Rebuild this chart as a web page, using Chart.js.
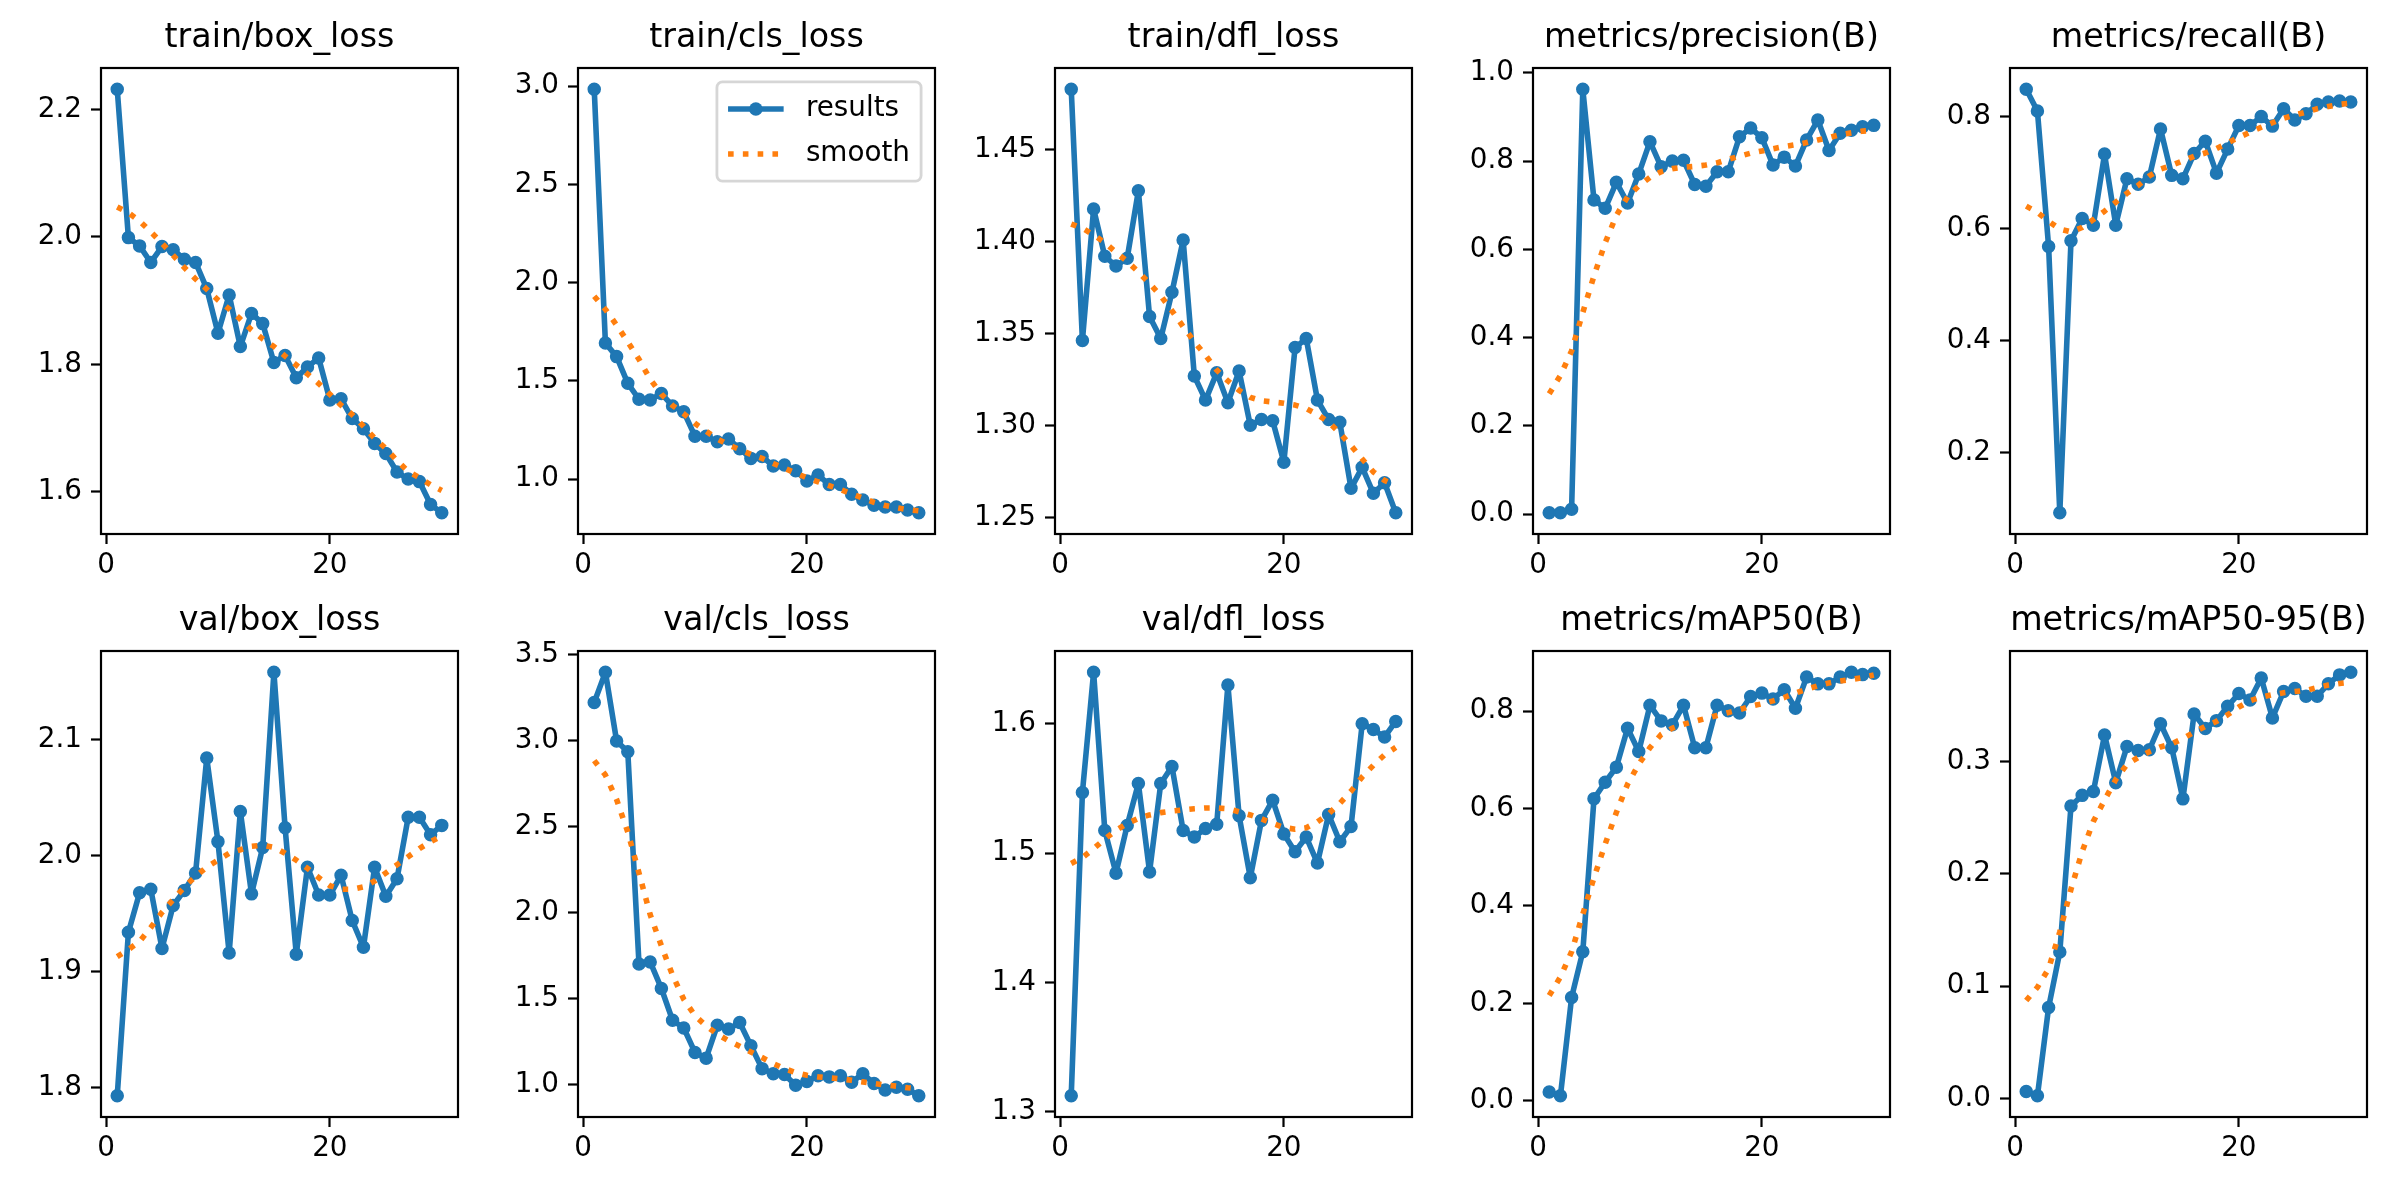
<!DOCTYPE html>
<html>
<head>
<meta charset="utf-8">
<title>results</title>
<script src="https://cdn.jsdelivr.net/npm/chart.js@4.4.1/dist/chart.umd.min.js"></script>
<style>
  html, body { margin: 0; padding: 0; background: #fff; }
  #fig { position: relative; width: 2400px; height: 1200px; overflow: hidden; background: #fff; }
  #fig canvas { position: absolute; }
</style>
</head>
<body>
<div id="fig"></div>
<script>
// epochs (x values shared by every panel)
const epochs = [1, 2, 3, 4, 5, 6, 7, 8, 9, 10, 11, 12, 13, 14, 15, 16, 17, 18, 19, 20, 21, 22, 23, 24, 25, 26, 27, 28, 29, 30];
const xTickLabels = ['0', '20'];

// train losses
const trainBoxLoss = [2.232, 1.999, 1.986, 1.960, 1.985, 1.980, 1.965, 1.960, 1.919, 1.849, 1.909, 1.828, 1.880, 1.864, 1.803, 1.814, 1.779, 1.796, 1.810, 1.744, 1.746, 1.715, 1.699, 1.676, 1.660, 1.631, 1.620, 1.616, 1.580, 1.567];
const trainBoxLossSmooth = [2.047, 2.038, 2.025, 2.008, 1.990, 1.971, 1.952, 1.934, 1.918, 1.901, 1.887, 1.871, 1.854, 1.840, 1.828, 1.813, 1.799, 1.785, 1.770, 1.753, 1.736, 1.721, 1.703, 1.684, 1.668, 1.649, 1.632, 1.622, 1.611, 1.602];
const trainBoxTicks = ['1.6', '1.8', '2.0', '2.2'];

const trainClsLoss = [2.984, 1.692, 1.623, 1.487, 1.406, 1.402, 1.435, 1.372, 1.342, 1.218, 1.218, 1.190, 1.204, 1.154, 1.105, 1.115, 1.066, 1.071, 1.042, 0.990, 1.020, 0.972, 0.972, 0.923, 0.893, 0.867, 0.858, 0.858, 0.842, 0.828];
const trainClsLossSmooth = [1.930, 1.863, 1.783, 1.698, 1.609, 1.508, 1.431, 1.374, 1.332, 1.283, 1.243, 1.204, 1.174, 1.150, 1.125, 1.105, 1.079, 1.055, 1.030, 1.006, 0.986, 0.966, 0.947, 0.925, 0.903, 0.881, 0.865, 0.854, 0.844, 0.838];
const trainClsTicks = ['1.0', '1.5', '2.0', '2.5', '3.0'];

const trainDflLoss = [1.4827, 1.3462, 1.4177, 1.3920, 1.3867, 1.3909, 1.4276, 1.3593, 1.3473, 1.3724, 1.4008, 1.3270, 1.3139, 1.3287, 1.3125, 1.3297, 1.3002, 1.3034, 1.3027, 1.2802, 1.3424, 1.3473, 1.3139, 1.3034, 1.3019, 1.2660, 1.2774, 1.2633, 1.2690, 1.2527];
const trainDflLossSmooth = [1.4095, 1.4072, 1.4036, 1.3994, 1.3941, 1.3892, 1.3835, 1.3772, 1.3705, 1.3624, 1.3538, 1.3456, 1.3382, 1.3302, 1.3243, 1.3192, 1.3154, 1.3135, 1.3129, 1.3122, 1.3112, 1.3093, 1.3061, 1.3019, 1.2960, 1.2892, 1.2819, 1.2749, 1.2703, 1.2675];
const trainDflTicks = ['1.25', '1.30', '1.35', '1.40', '1.45'];

// metrics
const precision = [0.003, 0.003, 0.011, 0.963, 0.712, 0.693, 0.752, 0.705, 0.771, 0.844, 0.787, 0.800, 0.802, 0.747, 0.743, 0.776, 0.776, 0.855, 0.875, 0.853, 0.791, 0.809, 0.789, 0.848, 0.893, 0.824, 0.863, 0.870, 0.878, 0.881];
const precisionSmooth = [0.273, 0.314, 0.370, 0.457, 0.540, 0.615, 0.677, 0.719, 0.744, 0.763, 0.776, 0.783, 0.786, 0.788, 0.791, 0.796, 0.804, 0.811, 0.818, 0.823, 0.828, 0.833, 0.837, 0.842, 0.848, 0.853, 0.860, 0.864, 0.868, 0.870];
const precisionTicks = ['0.0', '0.2', '0.4', '0.6', '0.8', '1.0'];

const recall = [0.849, 0.810, 0.568, 0.092, 0.578, 0.618, 0.606, 0.733, 0.606, 0.689, 0.679, 0.692, 0.778, 0.695, 0.689, 0.734, 0.756, 0.699, 0.742, 0.784, 0.784, 0.800, 0.783, 0.814, 0.794, 0.805, 0.822, 0.826, 0.828, 0.826];
const recallSmooth = [0.640, 0.629, 0.613, 0.599, 0.594, 0.602, 0.616, 0.631, 0.647, 0.663, 0.677, 0.694, 0.706, 0.713, 0.721, 0.729, 0.735, 0.743, 0.753, 0.763, 0.772, 0.781, 0.789, 0.797, 0.803, 0.808, 0.814, 0.818, 0.822, 0.824];
const recallTicks = ['0.2', '0.4', '0.6', '0.8'];

// val losses
const valBoxLoss = [1.793, 1.934, 1.968, 1.971, 1.920, 1.957, 1.970, 1.985, 2.084, 2.012, 1.916, 2.038, 1.967, 2.007, 2.158, 2.024, 1.915, 1.990, 1.966, 1.966, 1.983, 1.944, 1.921, 1.990, 1.965, 1.980, 2.033, 2.033, 2.018, 2.026];
const valBoxLossSmooth = [1.913, 1.919, 1.926, 1.938, 1.951, 1.962, 1.973, 1.982, 1.990, 1.996, 2.002, 2.005, 2.008, 2.009, 2.007, 2.002, 1.996, 1.989, 1.981, 1.974, 1.971, 1.971, 1.973, 1.978, 1.985, 1.992, 1.999, 2.006, 2.012, 2.017];
const valBoxTicks = ['1.8', '1.9', '2.0', '2.1'];

const valClsLoss = [3.223, 3.399, 2.999, 2.936, 1.703, 1.715, 1.561, 1.376, 1.331, 1.189, 1.156, 1.347, 1.325, 1.363, 1.228, 1.095, 1.065, 1.061, 0.998, 1.020, 1.054, 1.047, 1.054, 1.016, 1.065, 1.009, 0.971, 0.987, 0.975, 0.937];
const valClsLossSmooth = [2.885, 2.801, 2.659, 2.470, 2.232, 1.990, 1.809, 1.638, 1.498, 1.403, 1.343, 1.295, 1.257, 1.225, 1.192, 1.160, 1.124, 1.095, 1.072, 1.056, 1.047, 1.041, 1.036, 1.027, 1.018, 1.009, 1.000, 0.993, 0.984, 0.977];
const valClsTicks = ['1.0', '1.5', '2.0', '2.5', '3.0', '3.5'];

const valDflLoss = [1.3123, 1.5469, 1.6399, 1.5175, 1.4845, 1.5214, 1.5538, 1.4854, 1.5538, 1.5670, 1.5175, 1.5124, 1.5190, 1.5223, 1.6300, 1.5289, 1.4809, 1.5253, 1.5409, 1.5148, 1.5010, 1.5124, 1.4923, 1.5298, 1.5088, 1.5205, 1.6000, 1.5955, 1.5898, 1.6018];
const valDflLossSmooth = [1.4920, 1.4965, 1.5034, 1.5109, 1.5175, 1.5229, 1.5268, 1.5295, 1.5313, 1.5325, 1.5334, 1.5343, 1.5349, 1.5349, 1.5343, 1.5319, 1.5295, 1.5265, 1.5229, 1.5199, 1.5184, 1.5196, 1.5241, 1.5304, 1.5385, 1.5478, 1.5589, 1.5679, 1.5760, 1.5817];
const valDflTicks = ['1.3', '1.4', '1.5', '1.6'];

const mAP50 = [0.018, 0.010, 0.212, 0.306, 0.620, 0.654, 0.685, 0.765, 0.717, 0.812, 0.780, 0.772, 0.812, 0.725, 0.725, 0.812, 0.801, 0.796, 0.830, 0.837, 0.825, 0.844, 0.806, 0.870, 0.856, 0.856, 0.870, 0.880, 0.875, 0.878];
const mAP50Smooth = [0.216, 0.254, 0.306, 0.383, 0.458, 0.527, 0.592, 0.650, 0.691, 0.725, 0.752, 0.765, 0.773, 0.779, 0.785, 0.791, 0.797, 0.803, 0.810, 0.815, 0.821, 0.828, 0.837, 0.845, 0.852, 0.858, 0.862, 0.865, 0.869, 0.874];
const mAP50Ticks = ['0.0', '0.2', '0.4', '0.6', '0.8'];

const mAP5095 = [0.0062, 0.0024, 0.0810, 0.1303, 0.2603, 0.2697, 0.2731, 0.3234, 0.2810, 0.3131, 0.3097, 0.3103, 0.3334, 0.3121, 0.2666, 0.3421, 0.3293, 0.3362, 0.3490, 0.3603, 0.3545, 0.3741, 0.3386, 0.3621, 0.3648, 0.3579, 0.3579, 0.3690, 0.3769, 0.3793];
const mAP5095Smooth = [0.0872, 0.0990, 0.1155, 0.1483, 0.1862, 0.2197, 0.2466, 0.2655, 0.2838, 0.2972, 0.3034, 0.3086, 0.3128, 0.3155, 0.3203, 0.3259, 0.3310, 0.3355, 0.3414, 0.3483, 0.3538, 0.3572, 0.3593, 0.3610, 0.3621, 0.3631, 0.3655, 0.3679, 0.3693, 0.3703];
const mAP5095Ticks = ['0.0', '0.1', '0.2', '0.3'];

const panels = [
  { title: 'train/box_loss', results: trainBoxLoss, smooth: trainBoxLossSmooth, yTicks: trainBoxTicks },
  { title: 'train/cls_loss', results: trainClsLoss, smooth: trainClsLossSmooth, yTicks: trainClsTicks, legend: true },
  { title: 'train/dfl_loss', results: trainDflLoss, smooth: trainDflLossSmooth, yTicks: trainDflTicks },
  { title: 'metrics/precision(B)', results: precision, smooth: precisionSmooth, yTicks: precisionTicks },
  { title: 'metrics/recall(B)', results: recall, smooth: recallSmooth, yTicks: recallTicks },
  { title: 'val/box_loss', results: valBoxLoss, smooth: valBoxLossSmooth, yTicks: valBoxTicks },
  { title: 'val/cls_loss', results: valClsLoss, smooth: valClsLossSmooth, yTicks: valClsTicks },
  { title: 'val/dfl_loss', results: valDflLoss, smooth: valDflLossSmooth, yTicks: valDflTicks },
  { title: 'metrics/mAP50(B)', results: mAP50, smooth: mAP50Smooth, yTicks: mAP50Ticks },
  { title: 'metrics/mAP50-95(B)', results: mAP5095, smooth: mAP5095Smooth, yTicks: mAP5095Ticks }
];

// layout (px) - axes boxes of the 2x5 grid
const AX_LEFT = [101, 578, 1055, 1533, 2010];
const AX_TOP = [68, 651];
const AX_W = 357;
const AX_H = 466;
const YW = 100;   // room for y tick labels
const TH = 68;    // room for title
const XH = 60;    // room for x tick labels
const RP = 12;

const FONT = "'DejaVu Sans', sans-serif";
const TICK_SIZE = 27.8;
const TITLE_SIZE = 33.3;
const BLUE = '#1f77b4';
const ORANGE = '#ff7f0e';

Chart.defaults.font.family = FONT;
Chart.defaults.color = '#000';

// matplotlib style: 5% margin around the data
function dataRange(values) {
  const lo = Math.min(...values);
  const hi = Math.max(...values);
  const pad = (hi - lo) * 0.05;
  return { min: lo - pad, max: hi + pad };
}

// axes frame on all four sides
const axesFrame = {
  id: 'axesFrame',
  afterDraw(chart) {
    const { ctx, chartArea: a } = chart;
    ctx.save();
    ctx.strokeStyle = '#000';
    ctx.lineWidth = 2.2;
    ctx.strokeRect(a.left, a.top, a.right - a.left, a.bottom - a.top);
    ctx.restore();
  }
};

// legend in the upper right corner of the axes
const cornerLegend = {
  id: 'cornerLegend',
  afterDraw(chart) {
    const { ctx, chartArea: a } = chart;
    const sets = chart.data.datasets;
    const fs = TICK_SIZE;
    ctx.save();
    ctx.font = fs + 'px ' + FONT;
    const textW = Math.max(...sets.map(d => ctx.measureText(d.label).width));
    const pad = 0.4 * fs, handleLen = 2 * fs, gap = 0.8 * fs, rowStep = 45;
    const w = pad * 2 + handleLen + gap + textW;
    const h = pad * 2 + rowStep * (sets.length - 1) + 32;
    const x0 = a.right - 0.5 * fs - w;
    const y0 = a.top + 0.5 * fs;

    ctx.beginPath();
    ctx.roundRect(x0, y0, w, h, 0.2 * fs);
    ctx.fillStyle = 'rgba(255,255,255,0.8)';
    ctx.fill();
    ctx.strokeStyle = 'rgba(204,204,204,0.8)';
    ctx.lineWidth = 2.8;
    ctx.stroke();

    sets.forEach((d, i) => {
      const y = y0 + pad + 16 + i * rowStep;
      const hx = x0 + pad;
      ctx.beginPath();
      ctx.setLineDash(d.borderDash || []);
      ctx.lineCap = 'butt';
      ctx.strokeStyle = d.borderColor;
      ctx.lineWidth = d.borderWidth;
      ctx.moveTo(hx, y);
      ctx.lineTo(hx + handleLen, y);
      ctx.stroke();
      ctx.setLineDash([]);
      if (d.pointRadius > 0) {
        ctx.beginPath();
        ctx.arc(hx + handleLen / 2, y, d.pointRadius + d.pointBorderWidth / 2, 0, Math.PI * 2);
        ctx.fillStyle = d.pointBackgroundColor;
        ctx.fill();
      }
      ctx.fillStyle = '#000';
      ctx.textBaseline = 'middle';
      ctx.textAlign = 'left';
      ctx.fillText(d.label, hx + handleLen + gap, y);
    });
    ctx.restore();
  }
};

const fig = document.getElementById('fig');

panels.forEach((panel, idx) => {
  const col = idx % 5;
  const row = Math.floor(idx / 5);
  const canvas = document.createElement('canvas');
  canvas.width = YW + AX_W + RP;
  canvas.height = TH + AX_H + XH;
  canvas.style.left = (AX_LEFT[col] - YW) + 'px';
  canvas.style.top = (AX_TOP[row] - TH) + 'px';
  fig.appendChild(canvas);

  const yRange = dataRange(panel.results.concat(panel.smooth));
  const xRange = dataRange(epochs);

  new Chart(canvas, {
    type: 'line',
    data: {
      datasets: [
        {
          label: 'results',
          data: epochs.map((e, i) => ({ x: e, y: panel.results[i] })),
          borderColor: BLUE,
          backgroundColor: BLUE,
          borderWidth: 5.6,
          borderJoinStyle: 'round',
          borderCapStyle: 'square',
          pointRadius: 6,
          pointBorderWidth: 1.5,
          pointBackgroundColor: BLUE,
          pointBorderColor: BLUE,
          tension: 0,
          order: 1
        },
        {
          label: 'smooth',
          data: epochs.map((e, i) => ({ x: e, y: panel.smooth[i] })),
          borderColor: ORANGE,
          backgroundColor: ORANGE,
          borderWidth: 5.6,
          borderDash: [5.6, 9.2],
          borderCapStyle: 'butt',
          borderJoinStyle: 'round',
          pointRadius: 0,
          tension: 0,
          order: 0
        }
      ]
    },
    options: {
      responsive: false,
      animation: false,
      devicePixelRatio: 1,
      layout: { padding: { top: 0, right: RP, bottom: 0, left: 0 } },
      plugins: {
        legend: { display: false },
        tooltip: { enabled: false },
        title: {
          display: true,
          text: panel.title,
          fullSize: false,
          color: '#000',
          font: { family: FONT, size: TITLE_SIZE, weight: 'normal', lineHeight: 1 },
          padding: { top: 22, bottom: TH - 22 - TITLE_SIZE }
        }
      },
      scales: {
        x: {
          type: 'linear',
          min: xRange.min,
          max: xRange.max,
          afterBuildTicks: s => { s.ticks = xTickLabels.map(t => ({ value: Number(t) })); },
          afterFit: s => { s.height = XH; },
          border: { display: false },
          grid: { drawOnChartArea: false, drawTicks: true, tickLength: 10, tickWidth: 2.2, tickColor: '#000' },
          ticks: {
            autoSkip: false,
            maxRotation: 0,
            padding: 5,
            color: '#000',
            font: { size: TICK_SIZE },
            callback: (v, i) => xTickLabels[i]
          }
        },
        y: {
          type: 'linear',
          min: yRange.min,
          max: yRange.max,
          afterBuildTicks: s => { s.ticks = panel.yTicks.map(t => ({ value: Number(t) })); },
          afterFit: s => { s.width = YW; },
          border: { display: false },
          grid: { drawOnChartArea: false, drawTicks: true, tickLength: 10, tickWidth: 2.2, tickColor: '#000' },
          ticks: {
            autoSkip: false,
            padding: 9,
            color: '#000',
            font: { size: TICK_SIZE },
            callback: (v, i) => panel.yTicks[i]
          }
        }
      }
    },
    plugins: panel.legend ? [axesFrame, cornerLegend] : [axesFrame]
  });
});
</script>
</body>
</html>
